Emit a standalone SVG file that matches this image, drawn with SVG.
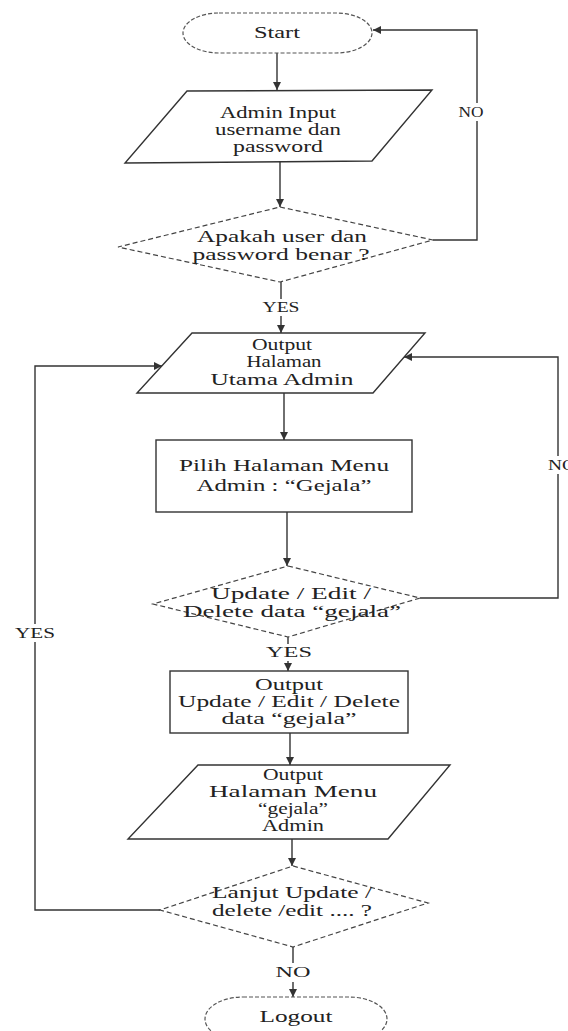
<svg xmlns="http://www.w3.org/2000/svg" width="568" height="1031" viewBox="0 0 568 1031">
<defs>
<marker id="ah" viewBox="0 0 10 10" refX="10" refY="5" markerWidth="8" markerHeight="8" markerUnits="userSpaceOnUse" orient="auto">
<path d="M0,0 L10,5 L0,10 z" fill="#333"/>
</marker>
<style>
.sh{fill:#fff;stroke:#333;stroke-width:1.4}
.dash{fill:#fff;stroke:#444;stroke-width:1.2;stroke-dasharray:5 3}
.term{fill:#fff;stroke:#555;stroke-width:1.2;stroke-dasharray:4 2}
.ln{fill:none;stroke:#333;stroke-width:1.4}
.ar{fill:none;stroke:#333;stroke-width:1.4;marker-end:url(#ah)}
text{font-family:"Liberation Serif","Times New Roman",serif;font-size:17px;fill:#222;text-anchor:middle}
.lb{font-size:14px}
</style>
</defs>
<rect width="568" height="1031" fill="#fff"/>
<g id="connectors">
<path class="ar" d="M277,53 V90"/>
<path class="ar" d="M280,162 V207"/>
<path class="ar" d="M433,240 H477 V30 H373"/>
<path class="ln" d="M281,282 V299"/>
<path class="ar" d="M281,316 V333"/>
<path class="ar" d="M284,393 V440"/>
<path class="ar" d="M287,512 V566"/>
<path class="ar" d="M420,598 H558 V357 H404"/>
<path class="ln" d="M288,637 V644"/>
<path class="ar" d="M288,661 V671"/>
<path class="ar" d="M290,733 V765"/>
<path class="ar" d="M292,839 V866"/>
<path class="ar" d="M160,910 H35 V366 H162"/>
<path class="ln" d="M293,947 V963"/>
<path class="ar" d="M293,982 V997"/>
<rect x="458" y="103" width="26" height="18" fill="#fff"/>
<text class="lb" x="471" y="117" textLength="25" lengthAdjust="spacingAndGlyphs">NO</text>
<text class="lb" x="281" y="312" textLength="37" lengthAdjust="spacingAndGlyphs">YES</text>
<rect x="546" y="456" width="22" height="18" fill="#fff"/>
<text class="lb" x="548" y="470" style="text-anchor:start" textLength="28" lengthAdjust="spacingAndGlyphs">NO</text>
<text class="lb" x="289" y="657" textLength="46" lengthAdjust="spacingAndGlyphs">YES</text>
<rect x="14" y="624" width="42" height="18" fill="#fff"/>
<text class="lb" x="35" y="638" textLength="40" lengthAdjust="spacingAndGlyphs">YES</text>
<text class="lb" x="293" y="977" textLength="35" lengthAdjust="spacingAndGlyphs">NO</text>
</g>
<g id="start">
<rect class="term" x="183" y="13" width="189" height="40" rx="36" ry="20"/>
<text x="277" y="38" textLength="46" lengthAdjust="spacingAndGlyphs">Start</text>
</g>
<g id="input">
<polygon class="sh" points="187,91 432,90 372,161 125,163"/>
<text x="278" y="118" style="font-size:16px" textLength="116" lengthAdjust="spacingAndGlyphs">Admin Input</text>
<text x="278" y="135" style="font-size:16px" textLength="126" lengthAdjust="spacingAndGlyphs">username dan</text>
<text x="278" y="152" style="font-size:16px" textLength="90" lengthAdjust="spacingAndGlyphs">password</text>
</g>
<g id="check-login">
<polygon class="dash" points="280,207 433,240 280,282 118,247"/>
<text x="282" y="242" textLength="170" lengthAdjust="spacingAndGlyphs">Apakah user dan</text>
<text x="281" y="260" textLength="177" lengthAdjust="spacingAndGlyphs">password benar ?</text>
</g>
<g id="home">
<polygon class="sh" points="192,333 425,333 373,393 137,393"/>
<text x="282" y="350" textLength="60" lengthAdjust="spacingAndGlyphs">Output</text>
<text x="284" y="367" textLength="75" lengthAdjust="spacingAndGlyphs">Halaman</text>
<text x="282" y="385" textLength="143" lengthAdjust="spacingAndGlyphs">Utama Admin</text>
</g>
<g id="menu">
<rect class="sh" x="156" y="440" width="256" height="72"/>
<text x="284" y="471" textLength="210" lengthAdjust="spacingAndGlyphs">Pilih Halaman Menu</text>
<text x="284" y="491" textLength="175" lengthAdjust="spacingAndGlyphs">Admin : “Gejala”</text>
</g>
<g id="check-action">
<polygon class="dash" points="288,566 420,598 288,637 153,604"/>
<text x="291" y="599" textLength="160" lengthAdjust="spacingAndGlyphs">Update / Edit /</text>
<text x="292" y="617" textLength="218" lengthAdjust="spacingAndGlyphs">Delete data “gejala”</text>
</g>
<g id="output-action">
<rect class="sh" x="170" y="671" width="238" height="62"/>
<text x="289" y="690" textLength="68" lengthAdjust="spacingAndGlyphs">Output</text>
<text x="289" y="707" textLength="222" lengthAdjust="spacingAndGlyphs">Update / Edit / Delete</text>
<text x="289" y="724" textLength="135" lengthAdjust="spacingAndGlyphs">data “gejala”</text>
</g>
<g id="menu-gejala">
<polygon class="sh" points="198,765 450,765 388,839 128,839"/>
<text x="293" y="780" textLength="60" lengthAdjust="spacingAndGlyphs">Output</text>
<text x="293" y="797" textLength="168" lengthAdjust="spacingAndGlyphs">Halaman Menu</text>
<text x="293" y="814" textLength="70" lengthAdjust="spacingAndGlyphs">“gejala”</text>
<text x="293" y="831" textLength="62" lengthAdjust="spacingAndGlyphs">Admin</text>
</g>
<g id="check-continue">
<polygon class="dash" points="293,866 428,903 293,947 160,910"/>
<text x="292" y="898" textLength="160" lengthAdjust="spacingAndGlyphs">Lanjut Update /</text>
<text x="292" y="916" textLength="160" lengthAdjust="spacingAndGlyphs">delete /edit .... ?</text>
</g>
<g id="logout">
<rect class="term" x="205" y="997" width="182" height="44" rx="38" ry="22"/>
<text x="296" y="1022" textLength="73" lengthAdjust="spacingAndGlyphs">Logout</text>
</g>
</svg>
